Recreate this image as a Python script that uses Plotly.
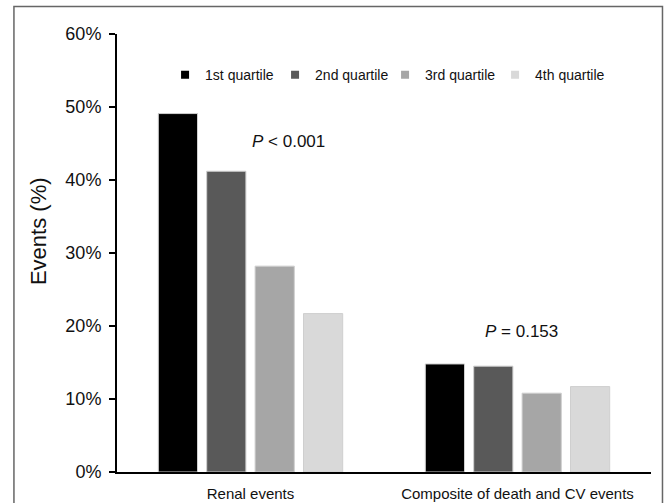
import plotly.graph_objects as go

categories = ["Renal events", "Composite of death and CV events"]
series_names = ["1st quartile", "2nd quartile", "3rd quartile", "4th quartile"]
q1 = [49.1, 14.8]
q2 = [41.2, 14.5]
q3 = [28.2, 10.8]
q4 = [21.7, 11.7]
series_values = [q1, q2, q3, q4]
colors = ["#000000", "#595959", "#a6a6a6", "#d9d9d9"]
y_ticks = [0, 10, 20, 30, 40, 50, 60]
y_ticktext = [f"{v}%" for v in y_ticks]
y_title = "Events (%)"
p_labels = ["<i>P</i> < 0.001", "<i>P</i> = 0.153"]
p_y = [45.3, 19.2]

FONT = "Liberation Sans, Arial, sans-serif"
TXT = "#111111"

fig = go.Figure()
for name, vals, col in zip(series_names, series_values, colors):
    fig.add_trace(go.Bar(
        x=categories, y=vals, name=name, showlegend=False,
        marker=dict(color=col, line=dict(color="#cfcfcf", width=1)),
    ))
    fig.add_trace(go.Scatter(
        x=[None], y=[None], mode="markers", name=name,
        marker=dict(symbol="square", size=8, color=col),
    ))

for i, (lab, yv) in enumerate(zip(p_labels, p_y)):
    fig.add_annotation(x=categories[i], y=yv, text=lab, showarrow=False,
                       xshift=38 if i == 0 else 4,
                       font=dict(family=FONT, size=17, color=TXT))

# y-axis title
fig.add_annotation(xref="paper", yref="paper", x=-0.148, y=0.55, text=y_title,
                   textangle=-90, showarrow=False, xanchor="center", yanchor="middle",
                   font=dict(family=FONT, size=22, color=TXT))

fig.add_shape(type="rect", xref="paper", yref="paper",
              x0=-0.193, x1=1.0215, y0=-0.3, y1=1.063,
              line=dict(color="#666666", width=1.5), fillcolor="rgba(0,0,0,0)",
              layer="below")

fig.update_layout(
    width=669, height=503,
    margin=dict(l=117, r=18, t=34, b=31, autoexpand=False),
    paper_bgcolor="white", plot_bgcolor="white",
    barmode="group", bargap=0.275, bargroupgap=0.19,
    showlegend=True,
    legend=dict(orientation="h", x=0.09, y=0.906, xanchor="left", yanchor="middle",
                font=dict(family=FONT, size=14, color=TXT),
                entrywidth=65, bgcolor="rgba(0,0,0,0)"),
    xaxis=dict(showline=True, linecolor="black", linewidth=2, ticks="",
               automargin=False,
               tickfont=dict(family=FONT, size=15, color=TXT),
               ticklabelstandoff=7, fixedrange=True),
    yaxis=dict(range=[0, 60], tickmode="array", tickvals=y_ticks, ticktext=y_ticktext,
               showline=True, linecolor="black", linewidth=2,
               ticks="outside", ticklen=6, tickwidth=2, tickcolor="black",
               showgrid=False, zeroline=False, automargin=False,
               ticklabelstandoff=4,
               tickfont=dict(family=FONT, size=18, color=TXT)),
)

fig.write_html("out.html",
               config={"displayModeBar": False},
               post_script="document.body.style.margin='0';document.body.style.overflow='hidden';")
